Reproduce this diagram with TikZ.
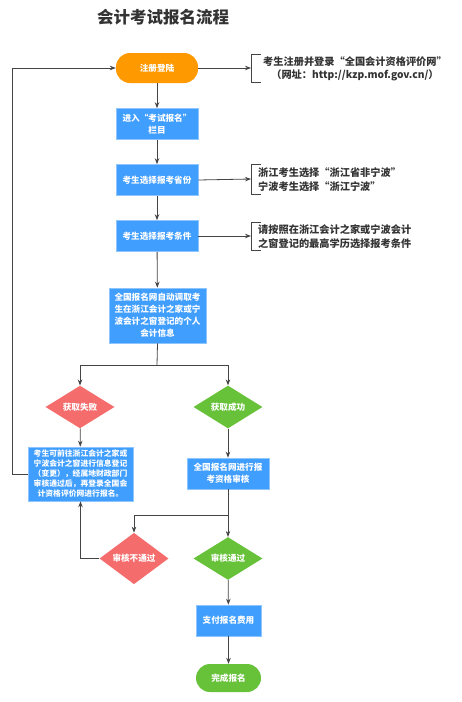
\documentclass[tikz,border=0pt]{standalone}
\usepackage{fontspec}
\setmainfont{Noto Sans CJK SC}
\usetikzlibrary{arrows.meta,shapes.geometric,calc}
\definecolor{cOrange}{HTML}{FF9900}
\definecolor{cBlue}{HTML}{409EFF}
\definecolor{cBlueB}{HTML}{8EC5FF}
\definecolor{cRed}{HTML}{F56C6C}
\definecolor{cGreen}{HTML}{67C23A}
\definecolor{cLine}{HTML}{444444}
\definecolor{cText}{HTML}{333333}
\tikzset{
  boxfont/.style={font=\fontsize{8.6}{12}\selectfont\bfseries},
  bluebox/.style={boxfont, fill=cBlue, draw=cBlueB, line width=0.6pt, text=white, align=center, inner sep=0pt, minimum width=82pt, minimum height=31pt},
  pill/.style={boxfont, rounded corners=14pt, draw=none, text=white, align=center, inner sep=0pt, minimum width=82pt, minimum height=30pt},
  dia/.style={boxfont, diamond, draw=none, text=white, inner sep=0pt, minimum width=69pt, minimum height=37pt},
  conn/.style={draw=cLine, line width=0.8pt, -{Stealth[length=6pt,width=4.5pt]}},
  plain/.style={draw=cLine, line width=0.8pt},
  note/.style={font=\fontsize{10.2}{13.5}\selectfont\bfseries, text=cText, inner sep=0pt},
  brk/.style={draw=cLine, line width=0.7pt}
}
\begin{document}
\begin{tikzpicture}[x=1pt,y=-1pt]
\useasboundingbox (0,0) rectangle (461,702);
\node[font=\fontsize{16.5}{18}\selectfont\bfseries, text=cText] (title) at (163,17) {会计考试报名流程};

\node[pill, fill=cOrange] (start) at (157,68) {注册登陆};
\node[bluebox] (b2) at (157,124) {进入“考试报名”\\栏目};
\node[bluebox] (b3) at (157,180) {考生选择报考省份};
\node[bluebox] (b4) at (157,236) {考生选择报考条件};
\node[bluebox, minimum width=97pt, minimum height=55pt] (b5) at (157.5,315.5) {全国报名网自动调取考\\生在浙江会计之家或宁\\波会计之窗登记的个人\\会计信息};

\node[dia, fill=cRed] (failD) at (80,407) {获取失败};
\node[dia, fill=cGreen] (okD) at (228,407) {获取成功};

\node[bluebox, minimum width=105pt, minimum height=54pt, font=\fontsize{7.8}{10}\selectfont\bfseries] (failB) at (80.5,474) {考生可前往浙江会计之家或\\宁波会计之窗进行信息登记\\（变更），经属地财政部门\\审核通过后，再登录全国会\\计资格评价网进行报名。};
\node[bluebox] (okB) at (228,473.5) {全国报名网进行报\\考资格审核};

\node[dia, fill=cRed] (fail2D) at (134,558.5) {审核不通过};
\node[dia, fill=cGreen] (passD) at (228,558.5) {审核通过};

\node[bluebox, minimum width=65pt] (pay) at (228.5,620.5) {支付报名费用};
\node[pill, fill=cGreen, minimum width=65pt, minimum height=28pt] (done) at (228.5,678) {完成报名};

% annotations
\coordinate (k1) at (251,68);
\coordinate (k2) at (251,179);
\coordinate (k3) at (251,236);
\draw[brk] (261,54) -- (251,54) -- (251,82) -- (261,82);
\draw[brk] (261,164) -- (251,164) -- (251,194) -- (261,194);
\draw[brk] (261,222) -- (251,222) -- (251,250) -- (261,250);
\node[note, align=center] (n1) at (355,69) {考生注册并登录“全国会计资格评价网”\\（网址：http://kzp.mof.gov.cn/）};
\node[note, align=left, anchor=west] (n2) at (258,179.5) {浙江考生选择“浙江省非宁波”\\宁波考生选择“浙江宁波”};
\node[note, align=left, anchor=west] (n3) at (258,236.5) {请按照在浙江会计之家或宁波会计\\之窗登记的最高学历选择报考条件};

\draw[conn] (start.east) -- (k1);
\draw[conn] (b3.east) -- (k2);
\draw[conn] (b4.east) -- (k3);

% main flow
\draw[conn] (start) -- (b2);
\draw[conn] (b2) -- (b3);
\draw[conn] (b3) -- (b4);
\draw[conn] (b4) -- (b5);
\coordinate (s1) at (157,365);
\draw[plain] (b5.south) -- (s1);
\draw[conn] (s1) -| (failD.north);
\draw[conn] (s1) -| (okD.north);
\draw[conn] (failD) -- (failB);
\draw[conn] (okD) -- (okB);
\coordinate (s2) at (228,515);
\draw[plain] (okB.south) -- (s2);
\draw[conn] (s2) -| (fail2D.north);
\draw[conn] (s2) -- (passD.north);
\draw[conn] (fail2D.west) -| (failB.south);
\coordinate (lb) at (12,474);
\draw[plain] (failB.west) -- (lb);
\draw[conn] (lb) |- (start.west);
\draw[conn] (passD) -- (pay);
\draw[conn] (pay) -- (done);
\end{tikzpicture}
\end{document}
